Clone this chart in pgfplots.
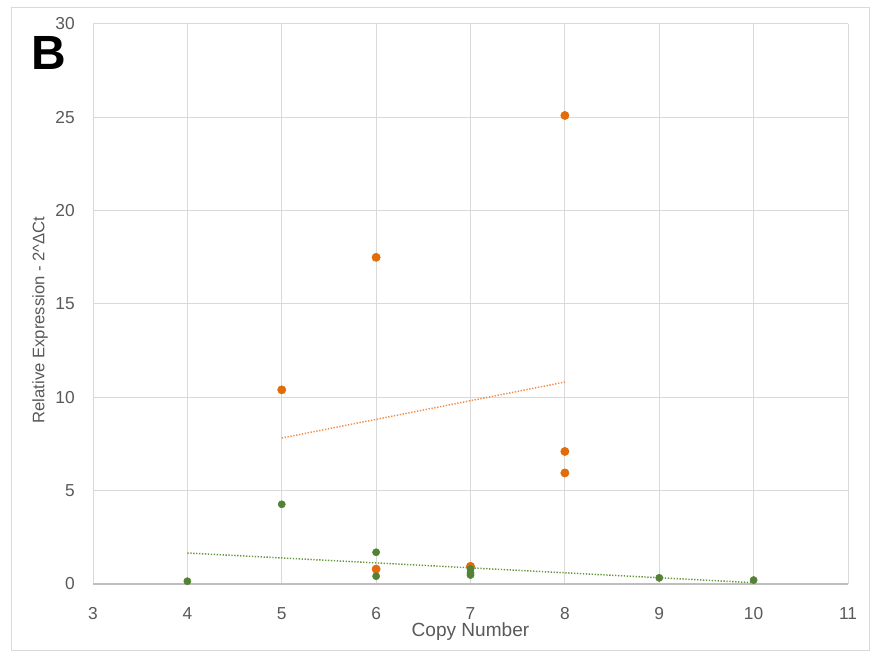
\documentclass[border=0pt]{standalone}
\usepackage{pgfplots}
\pgfplotsset{compat=1.18}
\usepackage{fontspec}
\setmainfont{Liberation Sans}
\definecolor{txtgray}{RGB}{89,89,89}
\definecolor{gridgray}{RGB}{217,217,217}
\definecolor{axgray}{RGB}{191,191,191}
\definecolor{orangept}{RGB}{226,107,10}
\definecolor{orangetr}{RGB}{240,140,70}
\definecolor{greenpt}{RGB}{84,130,53}
\definecolor{greentr}{RGB}{100,150,60}
\begin{document}
\begin{tikzpicture}[x=0.75pt,y=0.75pt]
\useasboundingbox (0,0) rectangle (872,657);
\draw[color=gridgray, line width=0.75pt] (11,6) rectangle (869,649);
\node[anchor=base, inner sep=0pt, font=\fontsize{36}{38}\selectfont\bfseries] at (49,587) {B};
\begin{axis}[
  at={(93pt*0.75,73pt*0.75)}, anchor=south west,
  scale only axis,
  width=566.25pt, height=420pt,
  xmin=3, xmax=11, ymin=0, ymax=30,
  xtick={3,4,...,11}, ytick={0,5,...,30},
  grid=major,
  major grid style={color=gridgray, line width=0.75pt},
  axis line style={draw=none},
  tick style={draw=none},
  axis x line*=bottom,
  axis y line*=left,
  ticklabel style={color=txtgray, font=\fontsize{13}{15}\selectfont},
  xticklabel style={anchor=base, inner sep=0pt, yshift=-27pt},
  yticklabel style={anchor=east, inner sep=0pt, xshift=-13.5pt},
  /pgf/number format/assume math mode=true,
  xlabel={Copy Number},
  ylabel={Relative Expression - 2\^{}ΔCt},
  xlabel style={color=txtgray, font=\fontsize{14.3}{16}\selectfont, at={(axis description cs:0.5,-0.0857)}, anchor=center},
  ylabel style={color=txtgray, font=\fontsize{12.5}{15}\selectfont, at={(axis description cs:-0.0702,0.4714)}, anchor=center},
  clip=false,
]
\draw[color=axgray, line width=1pt] (axis cs:3,0) -- (axis cs:11,0);
\addplot[only marks, mark=*, mark size=3.1pt, color=orangept, mark options={draw=orangept, fill=orangept}] coordinates {
(5,10.4) (6,17.5) (6,0.8) (7,0.95) (8,25.1) (8,7.1) (8,5.95)
};
\addplot[only marks, mark=*, mark size=2.7pt, color=greenpt, mark options={draw=greenpt, fill=greenpt}] coordinates {
(4,0.15) (5,4.27) (6,1.7) (6,0.42) (7,0.6) (7,0.48) (7,0.8) (9,0.33) (10,0.21)
};
\addplot[no marks, color=orangetr, line width=1.1pt, dash pattern=on 1pt off 1.2pt] coordinates {(5,7.82) (8,10.82)};
\addplot[no marks, color=greentr, line width=1.1pt, dash pattern=on 1pt off 1.2pt] coordinates {(4,1.66) (10,0.07)};
\end{axis}
\end{tikzpicture}
\end{document}
